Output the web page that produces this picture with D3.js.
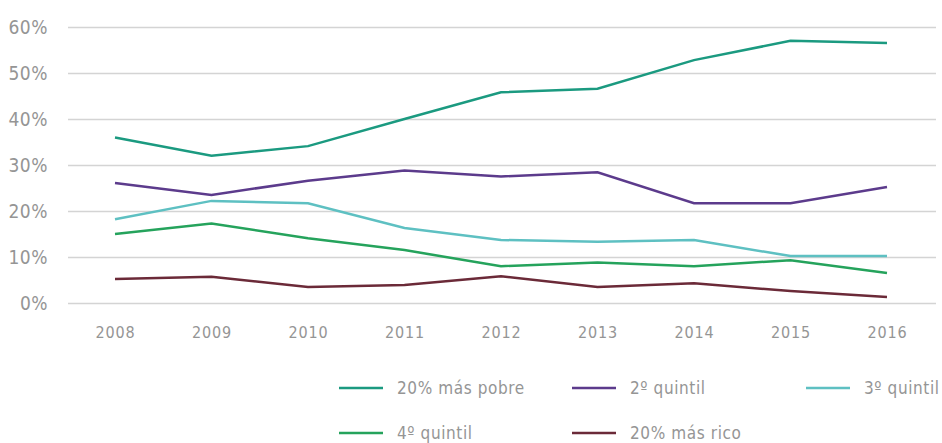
<!DOCTYPE html>
<html><head><meta charset="utf-8">
<script src="https://cdn.jsdelivr.net/npm/d3@7"></script>
<style>body{margin:0;background:#fff;} text{font-family:"DejaVu Sans Condensed","DejaVu Sans",sans-serif;}</style>
</head><body><svg id="c" width="942" height="443"></svg>
<script>
const years = [2008,2009,2010,2011,2012,2013,2014,2015,2016];
const seriesNames = ["20% más pobre","2º quintil","3º quintil","4º quintil","20% más rico"];
const pobre = [36.0,32.0,34.1,40.0,45.8,46.6,52.8,57.0,56.5];
const q2 = [26.1,23.5,26.6,28.8,27.5,28.4,21.7,21.7,25.2];
const q3 = [18.2,22.2,21.7,16.3,13.7,13.3,13.7,10.2,10.2];
const q4 = [15.0,17.3,14.1,11.5,8.0,8.8,8.0,9.3,6.5];
const rico = [5.2,5.7,3.5,3.9,5.8,3.5,4.3,2.6,1.3];
const yTicks = [0,10,20,30,40,50,60];
const colors = ["#1b9a80","#5c3b8c","#5ec0c2","#25a35c","#6b2a38"];
const values = [pobre,q2,q3,q4,rico];

const svg = d3.select("#c");
const x = d3.scalePoint().domain(years).range([115,887]);
const y = d3.scaleLinear().domain([0,60]).range([303,27]);

const ga = svg.append("g").attr("transform","translate(68,0)")
  .call(d3.axisLeft(y).tickValues(yTicks).tickSize(-868).tickFormat(d=>d+"%"));
ga.select(".domain").remove();
ga.selectAll(".tick line").attr("stroke","#d4d4d4").attr("stroke-width",1.5);
ga.selectAll(".tick text").attr("fill","#959595").attr("font-size",19)
  .attr("letter-spacing",0.5).attr("x",-20);

const gx = svg.append("g").attr("transform","translate(0,303)")
  .call(d3.axisBottom(x).tickSize(0).tickPadding(24));
gx.select(".domain").remove();
gx.selectAll(".tick text").attr("fill","#959595").attr("font-size",16).attr("letter-spacing",0.8);

const line = d3.line().x((d,i)=>x(years[i])).y(d=>y(d));
values.forEach((v,k)=>{
  svg.append("path").datum(v).attr("d",line).attr("fill","none")
    .attr("stroke",colors[k]).attr("stroke-width",2.5);
});

const legPos = [[339,388],[572,388],[806,388],[339,433],[572,433]];
seriesNames.forEach((n,k)=>{
  const [lx,ly] = legPos[k];
  svg.append("line").attr("x1",lx).attr("x2",lx+44).attr("y1",ly).attr("y2",ly)
    .attr("stroke",colors[k]).attr("stroke-width",2.5);
  svg.append("text").attr("x",lx+58).attr("y",ly).attr("dy","0.35em")
    .attr("fill","#959595").attr("font-size",17).attr("letter-spacing",0.6).text(n);
});
</script></body></html>
